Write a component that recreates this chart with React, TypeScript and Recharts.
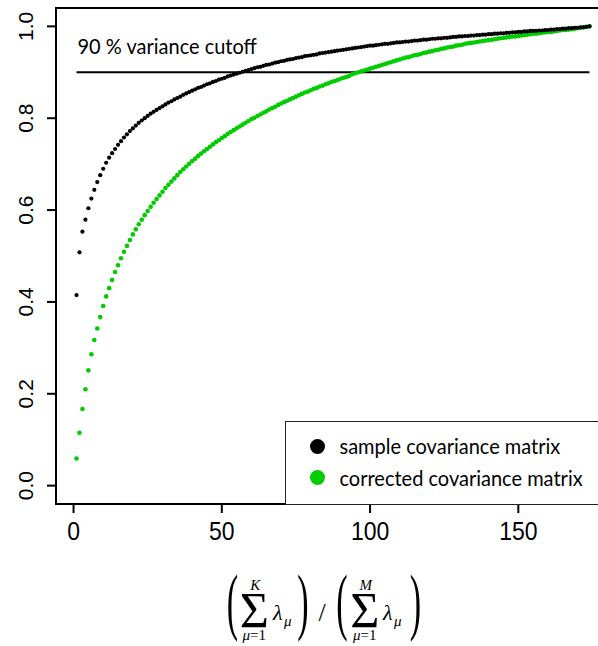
import { ScatterChart, Scatter, XAxis, YAxis, ReferenceLine, ReferenceArea, Legend, Label } from 'recharts';

// eigenvalue index K = 1..174
const components = Array.from({ length: 174 }, (_, i) => i + 1);

// cumulative share of variance
const sampleCum = [
  0.415, 0.508, 0.553, 0.579, 0.604, 0.625, 0.644, 0.661, 0.676, 0.690,
  0.703, 0.714, 0.724, 0.733, 0.742, 0.750, 0.758, 0.765, 0.772, 0.778,
  0.784, 0.790, 0.795, 0.800, 0.805, 0.810, 0.814, 0.818, 0.822, 0.826,
  0.830, 0.834, 0.837, 0.841, 0.844, 0.847, 0.851, 0.854, 0.857, 0.860,
  0.863, 0.866, 0.868, 0.871, 0.874, 0.876, 0.879, 0.881, 0.884, 0.886,
  0.888, 0.891, 0.893, 0.895, 0.897, 0.899, 0.901, 0.903, 0.905, 0.907,
  0.909, 0.911, 0.912, 0.914, 0.916, 0.917, 0.919, 0.921, 0.922, 0.924,
  0.925, 0.927, 0.928, 0.929, 0.931, 0.932, 0.933, 0.935, 0.936, 0.937,
  0.938, 0.939, 0.941, 0.942, 0.943, 0.944, 0.945, 0.946, 0.947, 0.948,
  0.949, 0.950, 0.951, 0.952, 0.953, 0.954, 0.955, 0.956, 0.957, 0.958,
  0.958, 0.959, 0.960, 0.961, 0.962, 0.962, 0.963, 0.964, 0.965, 0.965,
  0.966, 0.967, 0.967, 0.968, 0.969, 0.969, 0.970, 0.971, 0.971, 0.972,
  0.973, 0.973, 0.974, 0.974, 0.975, 0.975, 0.976, 0.977, 0.977, 0.978,
  0.978, 0.979, 0.979, 0.980, 0.980, 0.981, 0.981, 0.982, 0.982, 0.983,
  0.983, 0.984, 0.984, 0.985, 0.985, 0.986, 0.986, 0.987, 0.987, 0.988,
  0.988, 0.989, 0.989, 0.990, 0.990, 0.990, 0.991, 0.991, 0.992, 0.992,
  0.993, 0.993, 0.994, 0.994, 0.995, 0.995, 0.996, 0.996, 0.997, 0.997,
  0.998, 0.998, 0.999, 1.000,
];

const correctedCum = [
  0.059, 0.115, 0.167, 0.210, 0.251, 0.286, 0.317, 0.342, 0.367, 0.391,
  0.412, 0.430, 0.448, 0.465, 0.480, 0.495, 0.509, 0.522, 0.535, 0.547,
  0.558, 0.569, 0.579, 0.589, 0.598, 0.607, 0.616, 0.624, 0.632, 0.640,
  0.648, 0.655, 0.662, 0.669, 0.676, 0.683, 0.689, 0.695, 0.701, 0.707,
  0.712, 0.718, 0.723, 0.728, 0.733, 0.738, 0.743, 0.748, 0.752, 0.757,
  0.761, 0.766, 0.770, 0.774, 0.778, 0.782, 0.786, 0.790, 0.794, 0.798,
  0.801, 0.805, 0.808, 0.812, 0.815, 0.819, 0.822, 0.825, 0.829, 0.832,
  0.835, 0.838, 0.841, 0.844, 0.847, 0.850, 0.853, 0.856, 0.858, 0.861,
  0.864, 0.866, 0.869, 0.871, 0.874, 0.876, 0.879, 0.881, 0.883, 0.886,
  0.888, 0.890, 0.892, 0.896, 0.898, 0.900, 0.902, 0.904, 0.906, 0.908,
  0.910, 0.912, 0.914, 0.916, 0.918, 0.920, 0.922, 0.924, 0.926, 0.928,
  0.930, 0.932, 0.933, 0.935, 0.937, 0.938, 0.940, 0.942, 0.943, 0.945,
  0.946, 0.948, 0.949, 0.951, 0.952, 0.954, 0.955, 0.956, 0.958, 0.959,
  0.960, 0.962, 0.963, 0.964, 0.965, 0.966, 0.967, 0.968, 0.969, 0.970,
  0.971, 0.972, 0.973, 0.974, 0.975, 0.976, 0.977, 0.978, 0.978, 0.979,
  0.980, 0.981, 0.982, 0.983, 0.984, 0.984, 0.985, 0.986, 0.987, 0.988,
  0.988, 0.989, 0.990, 0.991, 0.992, 0.992, 0.993, 0.994, 0.995, 0.996,
  0.997, 0.998, 0.999, 1.000,
];

const xTicks = [0, 50, 100, 150];
const yTicks = [0, 0.2, 0.4, 0.6, 0.8, 1.0];
const xDomain = [-5.92, 180.92];
const yDomain = [-0.04, 1.04];
const cutoff = 0.9;
const cutoffLabel = '90 % variance cutoff';
const legendItems = [
  { name: 'sample covariance matrix', color: '#000000' },
  { name: 'corrected covariance matrix', color: '#00CD00' },
];

const sampleData = components.map((k, i) => ({ k, v: sampleCum[i] }));
const correctedData = components.map((k, i) => ({ k, v: correctedCum[i] }));

const SANS = "'Liberation Sans', Arial, sans-serif";
const TEXT = "Lato, 'Open Sans', sans-serif";
const SERIF = "'Liberation Serif', 'DejaVu Serif', serif";

function XTick({ x, payload }: any) {
  return (
    <g transform={`translate(${x},540) scale(1,1.09)`}>
      <text x={0} y={0} textAnchor="middle" fontFamily={SANS} fontSize={23} fill="#000">
        {payload.value}
      </text>
    </g>
  );
}

function YTick({ y, payload }: any) {
  return (
    <text x={33.5} y={y} transform={`rotate(-90 33.5 ${y})`} textAnchor="middle"
      fontFamily={SANS} fontSize={21} fill="#000">
      {Number(payload.value).toFixed(1)}
    </text>
  );
}

function CutoffLabel({ viewBox }: any) {
  return (
    <g transform={`translate(${viewBox.x + 1},${viewBox.y - 18}) scale(1,1.08)`}>
      <text x={0} y={0} fontFamily={TEXT} fontSize={20} fill="#000">{cutoffLabel}</text>
    </g>
  );
}

// x-axis title: (sum_{mu=1}^K lambda_mu) / (sum_{mu=1}^M lambda_mu)
function RatioLabel({ viewBox }: any) {
  const ox = viewBox.x - 56;
  const oy = viewBox.y - 504;
  const paren = (cx: number, ch: string) => (
    <text x={0} y={0} fontSize={36} textAnchor="middle"
      transform={`translate(${cx},626) scale(0.95,2.05)`}>{ch}</text>
  );
  const sum = (cx: number, top: string) => (
    <g>
      <text x={cx} y={627} fontSize={50} textAnchor="middle">Σ</text>
      <text x={cx + 1} y={590} fontSize={15} fontStyle="italic" textAnchor="middle">{top}</text>
      <text x={cx} y={640} fontSize={15} textAnchor="middle">
        <tspan fontStyle="italic">μ</tspan>=1
      </text>
    </g>
  );
  const lam = (x0: number) => (
    <g>
      <text x={x0} y={620} fontSize={22} fontStyle="italic">λ</text>
      <text x={x0 + 11} y={626} fontSize={15} fontStyle="italic">μ</text>
    </g>
  );
  return (
    <g transform={`translate(${ox},${oy})`} fontFamily={SERIF} fill="#000">
      {paren(232.5, '(')}
      {sum(254.3, 'K')}
      {lam(273)}
      {paren(303, ')')}
      <text x={322} y={621} fontSize={26} textAnchor="middle">/</text>
      {paren(342, '(')}
      {sum(364.8, 'M')}
      {lam(383)}
      {paren(415.5, ')')}
    </g>
  );
}

function LegendBox() {
  return (
    <div style={{
      boxSizing: 'border-box', width: 340, height: 84, border: '1.3px solid #222',
      position: 'relative', fontFamily: TEXT, fontSize: 20, background: '#fff',
    }}>
      {legendItems.map((item, i) => (
        <div key={item.name} style={{ position: 'absolute', left: 0, top: 24.5 + i * 31.7 - 15, height: 30, width: 340 }}>
          <span style={{
            position: 'absolute', left: 32.2 - 7.5, top: 7.5, width: 15, height: 15,
            borderRadius: '50%', background: item.color,
          }} />
          <span style={{
            position: 'absolute', left: 54, top: 0, lineHeight: '28px', whiteSpace: 'nowrap',
            transform: 'scaleY(1.1)', transformOrigin: 'left center',
          }}>
            {item.name}
          </span>
        </div>
      ))}
    </div>
  );
}

export default function App() {
  return (
    <div style={{ position: 'absolute', left: 0, top: 0, width: 598, height: 646, overflow: 'hidden', background: '#fff' }}>
      <ScatterChart width={620} height={646} margin={{ top: 8, right: 10, bottom: 0, left: 0 }}>
        <XAxis type="number" dataKey="k" domain={xDomain} ticks={xTicks} allowDataOverflow
          axisLine={false} tickSize={9} tickLine={{ stroke: '#000', strokeWidth: 2 }}
          tick={<XTick />} height={142} interval={0}>
          <Label content={<RatioLabel />} />
        </XAxis>
        <YAxis type="number" dataKey="v" domain={yDomain} ticks={yTicks} allowDataOverflow
          axisLine={false} tickSize={9} tickLine={{ stroke: '#000', strokeWidth: 2 }}
          tick={<YTick />} width={56} interval={0} />
        <ReferenceArea x1={xDomain[0]} x2={xDomain[1]} y1={yDomain[0]} y2={yDomain[1]}
          fill="none" fillOpacity={0} stroke="#000" strokeWidth={2} ifOverflow="visible" />
        <ReferenceLine segment={[{ x: 1, y: cutoff }, { x: components.length, y: cutoff }]}
          stroke="#000" strokeWidth={2} label={<CutoffLabel />} />
        <Scatter name={legendItems[1].name} data={correctedData} isAnimationActive={false}
          shape={(p: any) => <circle cx={p.cx} cy={p.cy} r={2.3} fill={legendItems[1].color} />} />
        <Scatter name={legendItems[0].name} data={sampleData} isAnimationActive={false}
          shape={(p: any) => <circle cx={p.cx} cy={p.cy} r={2.1} fill={legendItems[0].color} />} />
        <Legend layout="horizontal" verticalAlign="middle" align="center"
          wrapperStyle={{ position: 'absolute', left: 284.5, top: 420.5, width: 340, height: 84 }}
          content={() => <LegendBox />} />
      </ScatterChart>
    </div>
  );
}
